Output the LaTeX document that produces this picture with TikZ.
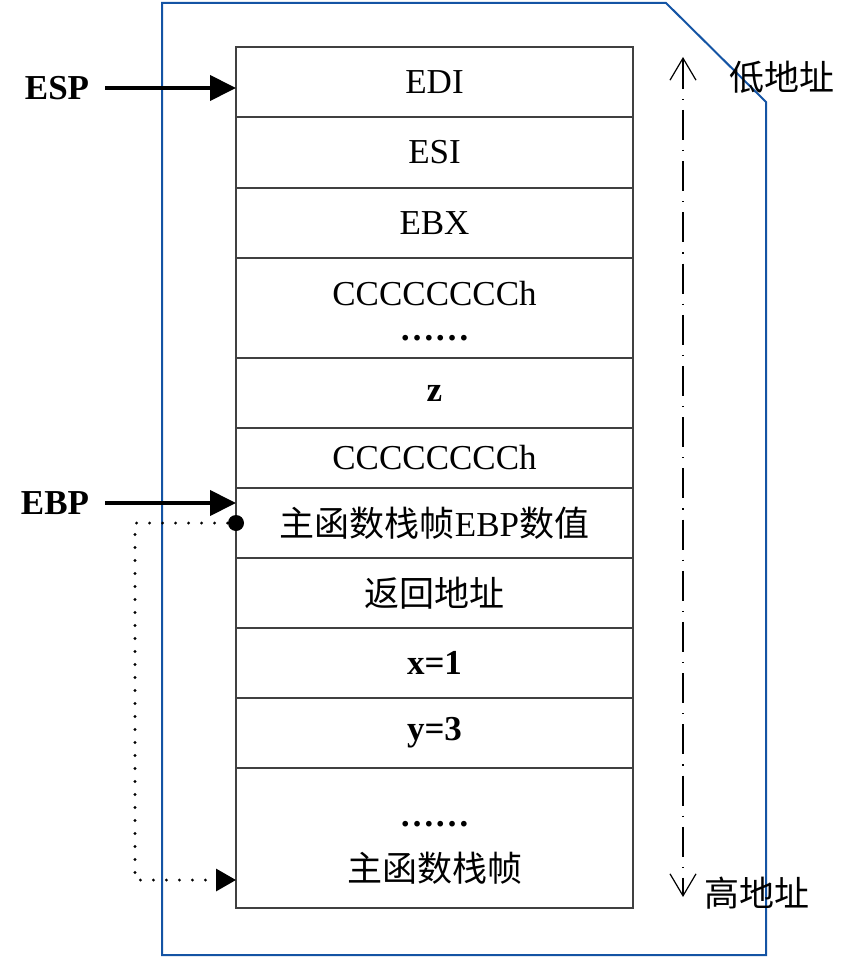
\documentclass[tikz,border=0pt]{standalone}
\usepackage{fontspec}
\setmainfont{Liberation Serif}
\newfontfamily\cjk{Noto Sans CJK SC}
\usepackage{xcolor}
\usetikzlibrary{arrows.meta, positioning, calc}
\definecolor{frameblue}{RGB}{20,84,164}

\begin{document}
\begin{tikzpicture}[x=0.5pt, y=-0.5pt,
    cell/.style={draw=black!75, line width=0.6pt, minimum width=198.5pt, inner sep=0pt, outer sep=0pt},
    txt/.style={font=\fontsize{17.5}{20}\selectfont, inner sep=0pt},
    lbl/.style={font=\fontsize{17.5}{20}\selectfont\bfseries, inner sep=0pt},
    ptr/.style={line width=2pt, -{Triangle[length=13pt, width=12.5pt]}},
    dots/.style={line width=1.6pt, line cap=round, dash pattern=on 0pt off 6.5pt, -{Triangle[length=10pt, width=11pt]}},
    axis/.style={line width=0.6pt, dash pattern=on 15pt off 5pt on 0.6pt off 5pt,
      {Straight Barb[length=11pt, width=13pt]}-{Straight Barb[length=11pt, width=13pt]}}]
  \useasboundingbox (0,0) rectangle (865,957);

  % outer frame
  \draw[frameblue, line width=1pt] (162,3) -- (666,3) -- (766,102) -- (766,955) -- (162,955) -- cycle;

  % stack cells
  \node[cell, minimum height=35pt] (c1) at (434.5,82) {};
  \node[cell, minimum height=35.5pt] (c2) at (434.5,152.5) {};
  \node[cell, minimum height=35pt] (c3) at (434.5,223) {};
  \node[cell, minimum height=50pt] (c4) at (434.5,308) {};
  \node[cell, minimum height=35pt] (c5) at (434.5,393) {};
  \node[cell, minimum height=30pt] (c6) at (434.5,458) {};
  \node[cell, minimum height=35pt] (c7) at (434.5,523) {};
  \node[cell, minimum height=35pt] (c8) at (434.5,593) {};
  \node[cell, minimum height=35pt] (c9) at (434.5,663) {};
  \node[cell, minimum height=35pt] (c10) at (434.5,733) {};
  \node[cell, minimum height=70pt] (c11) at (434.5,838) {};

  \node[txt] (edi) at (c1) {EDI};
  \node[txt] (esi) at (c2) {ESI};
  \node[txt] (ebx) at (c3) {EBX};
  \node[txt] (cc1) at (434.5,294) {CCCCCCCCh};
  \node[lbl] (dd1) at (434.5,338) {……};
  \node[lbl] (z) at (c5) {z};
  \node[txt] (cc2) at (c6) {CCCCCCCCh};
  \node[txt] (oldebp) at (c7) {{\cjk 主函数栈帧}EBP{\cjk 数值}};
  \node[txt] (ret) at (c8) {\cjk 返回地址};
  \node[lbl] (x) at (c9) {x=1};
  \node[lbl] (y) at (c10) {y=3};
  \node[lbl] (dd2) at (434.5,824) {……};
  \node[txt] (mainfr) at (434.5,868) {\cjk 主函数栈帧};

  % registers
  \node[lbl] (esp) at (57,88) {ESP};
  \node[lbl] (ebp) at (55,503) {EBP};
  \draw[ptr] ([xshift=8pt]esp.east) -- (esp.east -| c1.west);
  \draw[ptr] ([xshift=8pt]ebp.east) -- (ebp.east -| c7.west);

  % saved ebp link
  \node[circle, fill, inner sep=0pt, minimum size=8pt] (dot) at (c7.west) {};
  \coordinate (tgt) at (236,880);
  \draw[dots] (dot) -| ($(tgt)+(-101,0)$) -- (tgt);

  % address direction
  \coordinate (lo) at (683,57);
  \coordinate (hi) at (683,897);
  \draw[axis] (lo) -- (hi);
  \node[txt] (low) at (782,77) {\cjk 低地址};
  \node[txt] (high) at (757,893) {\cjk 高地址};
\end{tikzpicture}
\end{document}
